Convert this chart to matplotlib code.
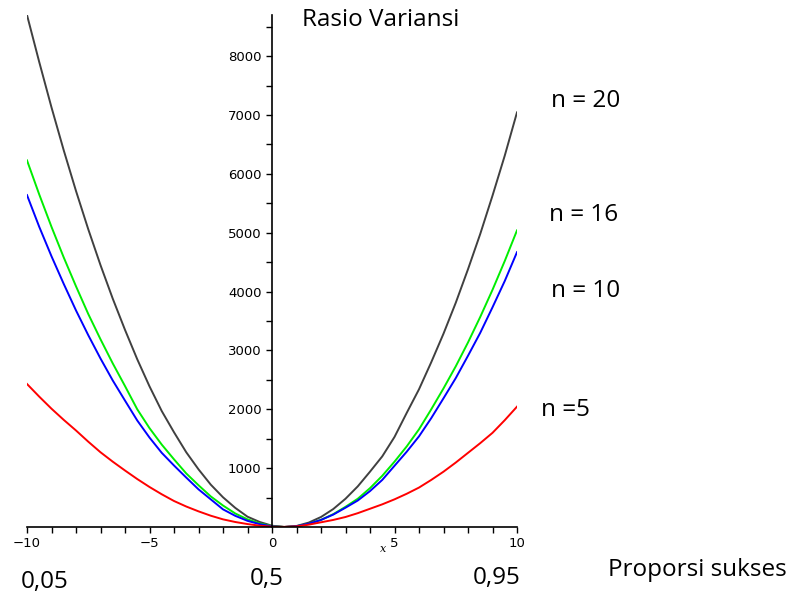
import numpy as np
import matplotlib
matplotlib.use("Agg")
import matplotlib.pyplot as plt

# values, x = -10 .. 10 in steps of 0.5
x = np.arange(-10, 10.5, 0.5)
n20 = [8700, 7900, 7130, 6400, 5710, 5060, 4450, 3880, 3350, 2850, 2390,
       1970, 1610, 1270, 980, 720, 505, 325, 175, 85, 22,
       0, 17, 75, 170, 305, 480, 690, 940, 1200, 1530,
       1940, 2340, 2800, 3285, 3810, 4380, 4980, 5630, 6310, 7045]
n16 = [6230, 5650, 5100, 4580, 4090, 3620, 3190, 2780, 2395, 2000, 1680,
       1400, 1150, 910, 710, 520, 365, 230, 130, 60, 16,
       0, 12, 53, 121, 218, 343, 480, 660, 870, 1110,
       1370, 1660, 2000, 2355, 2730, 3136, 3570, 4030, 4520, 5040]
n10 = [5640, 5100, 4600, 4130, 3680, 3260, 2863, 2490, 2148, 1810, 1520,
       1260, 1045, 840, 640, 470, 300, 190, 105, 48, 11,
       0, 14, 55, 120, 211, 328, 450, 610, 800, 1040,
       1280, 1540, 1850, 2187, 2530, 2910, 3300, 3733, 4180, 4670]
n5 = [2430, 2215, 2010, 1820, 1640, 1450, 1270, 1110, 960, 815, 680,
      556, 442, 348, 266, 192, 130, 85, 50, 22, 5,
      2, 10, 40, 80, 120, 170, 235, 310, 385, 470,
      565, 670, 800, 940, 1095, 1260, 1425, 1600, 1815, 2045]

W, H = 797, 598
fig = plt.figure(figsize=(W / 100, H / 100), dpi=100)
ax = fig.add_axes([27 / W, (H - 527) / H, 490 / W, 512 / H])

ax.plot(x, n20, color="#404040", lw=1.4)
ax.plot(x, n16, color="#00ee00", lw=1.4)
ax.plot(x, n10, color="#0000ff", lw=1.4)
ax.plot(x, n5, color="#ff0000", lw=1.4)

ax.set_xlim(-10, 10)
ax.set_ylim(0, 8700)
ax.spines["top"].set_visible(False)
ax.spines["right"].set_visible(False)
ax.spines["left"].set_position(("data", 0))
ax.spines["bottom"].set_position(("data", 0))
ax.spines["left"].set_linewidth(1.2)
ax.spines["bottom"].set_linewidth(1.2)

ax.set_xticks([-10, -5, 0, 5, 10])
ax.set_xticks(np.arange(-10, 11, 1), minor=True)
ax.set_yticks(np.arange(1000, 8001, 1000))
ax.set_yticks(np.arange(500, 8700, 500), minor=True)
ax.tick_params(which="both", direction="out", length=4, width=1)
for lab in ax.get_xticklabels() + ax.get_yticklabels():
    lab.set_family("DejaVu Sans")
    lab.set_fontsize(9.5)

fig.text(383 / W, 1 - 549 / H, "x", fontsize=8, style="italic",
         family="DejaVu Serif", ha="center", va="center")

txt = ["Open Sans", "DejaVu Sans"]
fs = 17.5
fig.text(381 / W, 1 - 20 / H, "Rasio Variansi", fontsize=fs, family=txt, ha="center", va="center")
fig.text(551 / W, 1 - 101 / H, "n = 20", fontsize=fs, family=txt, ha="left", va="center")
fig.text(549 / W, 1 - 215 / H, "n = 16", fontsize=fs, family=txt, ha="left", va="center")
fig.text(551 / W, 1 - 291 / H, "n = 10", fontsize=fs, family=txt, ha="left", va="center")
fig.text(541 / W, 1 - 410 / H, "n =5", fontsize=fs, family=txt, ha="left", va="center")
fig.text(45 / W, 1 - 582 / H, "0,05", fontsize=fs, family=txt, ha="center", va="center")
fig.text(267 / W, 1 - 579 / H, "0,5", fontsize=fs, family=txt, ha="center", va="center")
fig.text(497 / W, 1 - 578 / H, "0,95", fontsize=fs, family=txt, ha="center", va="center")
fig.text(697 / W, 1 - 570 / H, "Proporsi sukses", fontsize=fs, family=txt, ha="center", va="center")

fig.savefig("out.png", dpi=100)
